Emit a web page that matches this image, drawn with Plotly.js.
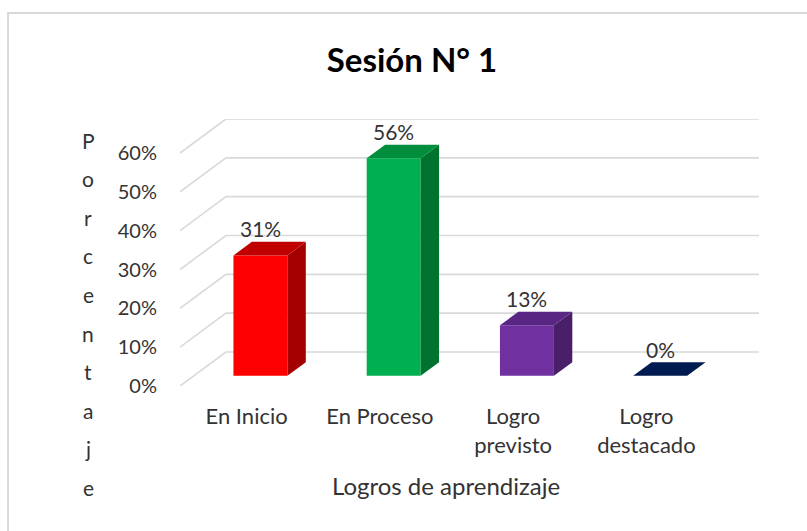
<!DOCTYPE html>
<html>
<head>
<meta charset="utf-8">
<script src="https://cdn.plot.ly/plotly-3.0.1.min.js"></script>
<style>html,body{margin:0;padding:0;background:#fff;}#chart{width:807px;height:531px;}</style>
</head>
<body>
<div id="chart"></div>
<script>
// ---- data ----
const categories = ['En Inicio', 'En Proceso', 'Logro<br>previsto', 'Logro<br>destacado'];
const values = [31, 56, 13, 0];
const yTicks = [0, 10, 20, 30, 40, 50, 60];
const yTickText = ['0%', '10%', '20%', '30%', '40%', '50%', '60%'];
const valueLabels = ['31%', '56%', '13%', '0%'];
const frontColors = ['#FF0000', '#00B050', '#7030A0', '#002060'];
const sideColors = ['#A50000', '#00742F', '#4A1F6A', '#001540'];
const topColors = ['#C00000', '#008E3D', '#5A2683', '#001B50'];
const yTitle = 'Porcentaje';

// ---- geometry (pixels) ----
const W = 807, H = 531;
const L = 180, T = 119;
const pxPerCat = 133.3, pxPerPct = 3.883;
const DX = 46, DY = 34;            // full depth offset of the walls in px
const dxB = DX / pxPerCat, dyB = DY / pxPerPct;
const xMin = -0.5, xMax = categories.length - 0.5 + dxB;
const yMax = yTicks[yTicks.length - 1] + dyB;
const plotW = (xMax - xMin) * pxPerCat;
const plotH = yMax * pxPerPct;
const R = W - L - plotW, B = H - T - plotH;
const bottomPx = T + plotH;
const barFrontDepth = 0.3, barDepth = 0.4, barW = 0.405;
const fx = barFrontDepth * dxB, fy = barFrontDepth * dyB;
const ddx = barDepth * dxB, ddy = barDepth * dyB;

const traces = [];
// front faces
traces.push({type: 'bar', x: categories.map((c, i) => i + fx), y: values, base: values.map(() => fy),
  width: barW, marker: {color: frontColors, line: {width: 0}}, hoverinfo: 'skip', showlegend: false});

// side & top faces
values.forEach((v, i) => {
  const xl = i + fx - barW / 2, xr = i + fx + barW / 2;
  const y0 = fy, y1 = fy + v;
  if (v > 0) {
    traces.push({type: 'scatter', mode: 'lines', fill: 'toself', fillcolor: sideColors[i],
      x: [xr, xr + ddx, xr + ddx, xr, xr], y: [y0, y0 + ddy, y1 + ddy, y1, y0],
      line: {width: 0, color: sideColors[i]}, hoverinfo: 'skip', showlegend: false});
  }
  traces.push({type: 'scatter', mode: 'lines', fill: 'toself', fillcolor: topColors[i],
    x: [xl, xr, xr + ddx, xl + ddx, xl], y: [y1, y1, y1 + ddy, y1 + ddy, y1],
    line: {width: 0, color: topColors[i]}, hoverinfo: 'skip', showlegend: false});
});

// gridlines (side wall + back wall) as shapes below the traces
const shapes = yTicks.map(v => ({
  type: 'path', xref: 'x', yref: 'y', layer: 'below',
  path: 'M' + xMin + ',' + v + ' L' + (xMin + dxB) + ',' + (v + dyB) + ' L' + xMax + ',' + (v + dyB),
  line: {color: '#d9d9d9', width: 1.6}
}));
shapes.push({type: 'rect', xref: 'paper', yref: 'paper', x0: (8 - L) / plotW, x1: (W + 10 - L) / plotW,
  y0: (bottomPx - (H + 10)) / plotH, y1: (bottomPx - 13) / plotH, line: {color: '#d9d9d9', width: 2}, layer: 'below'});

const font = 'Lato, "Open Sans", sans-serif';
const txt = '#333333';
const annotations = values.map((v, i) => ({
  x: i + fx, y: fy + v + ddy, xref: 'x', yref: 'y', text: valueLabels[i], showarrow: false,
  yanchor: 'middle', yshift: 13, font: {family: font, size: 21, color: txt}
}));
// vertical stacked axis title
yTitle.split('').forEach((ch, k) => {
  const py = 140 + k * 38.6;
  annotations.push({x: (88 - L) / plotW, y: (bottomPx - py) / plotH, xref: 'paper', yref: 'paper',
    text: ch, showarrow: false, xanchor: 'center', yanchor: 'middle',
    font: {family: font, size: 21, color: txt}});
});
annotations.push({x: (446 - L) / plotW, y: (bottomPx - 485) / plotH, xref: 'paper', yref: 'paper',
  text: 'Logros de aprendizaje', showarrow: false, xanchor: 'center', yanchor: 'middle',
  font: {family: font, size: 24, color: txt}});

const layout = {
  width: W, height: H,
  margin: {l: L, r: R, t: T, b: B, pad: 0},
  paper_bgcolor: '#fff', plot_bgcolor: 'rgba(0,0,0,0)',
  title: {text: '<b>Sesión N° 1</b>', x: 412 / W, xanchor: 'center', y: 1 - 60 / H, yanchor: 'middle',
    font: {family: font, size: 33, color: '#000'}},
  xaxis: {range: [xMin, xMax], tickvals: categories.map((c, i) => i), ticktext: categories,
    showgrid: false, zeroline: false, showline: false, ticks: '', ticklabelstandoff: 15,
    tickfont: {family: font, size: 22, color: txt}, fixedrange: true},
  yaxis: {range: [0, yMax], tickvals: yTicks, ticktext: yTickText, showgrid: false, zeroline: false,
    showline: false, ticks: '', ticklabelstandoff: 22,
    tickfont: {family: font, size: 20, color: txt}, fixedrange: true},
  annotations: annotations,
  shapes: shapes,
  showlegend: false
};
Plotly.newPlot('chart', traces, layout, {displayModeBar: false, staticPlot: true});
</script>
</body>
</html>
